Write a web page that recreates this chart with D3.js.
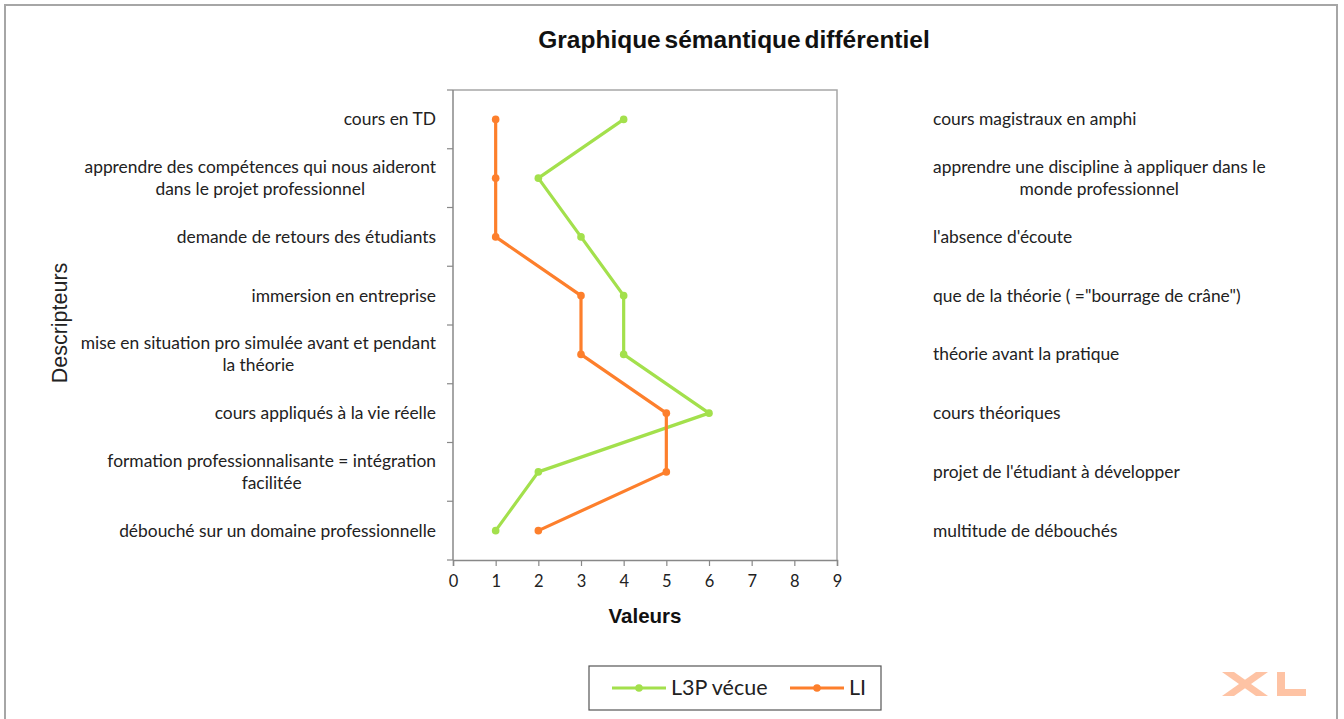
<!DOCTYPE html>
<html><head><meta charset="utf-8">
<script src="https://cdn.jsdelivr.net/npm/d3@7"></script>
<style>body{margin:0;background:#fff}svg{display:block}</style>
</head><body>
<svg id="c" width="1344" height="719"></svg>
<script>
const leftLabels = [
  ["cours en TD"],
  ["apprendre des compétences qui nous aideront","dans le projet professionnel"],
  ["demande de retours des étudiants"],
  ["immersion en entreprise"],
  ["mise en situation pro simulée avant et pendant","la théorie"],
  ["cours appliqués à la vie réelle"],
  ["formation professionnalisante = intégration","facilitée"],
  ["débouché sur un domaine professionnelle"]
];
const rightLabels = [
  ["cours magistraux en amphi"],
  ["apprendre une discipline à appliquer dans le","monde professionnel"],
  ["l'absence d'écoute"],
  ["que de la théorie ( =\"bourrage de crâne\")"],
  ["théorie avant la pratique"],
  ["cours théoriques"],
  ["projet de l'étudiant à développer"],
  ["multitude de débouchés"]
];
const seriesNames = ["L3P vécue", "LI"];
const l3pValues = [4, 2, 3, 4, 4, 6, 2, 1];
const liValues  = [1, 1, 1, 3, 3, 5, 5, 2];
const xTicks = [0,1,2,3,4,5,6,7,8,9];
const colors = ["#a3e04c", "#fd7f2c"];

const svg = d3.select("#c");
const labelFont = "Lato, 'Open Sans', sans-serif";
const labelSize = 17.4;

// outer frame
svg.append("rect").attr("x",5).attr("y",5).attr("width",1332).attr("height",730)
  .attr("fill","none").attr("stroke","#a6a6a6").attr("stroke-width",2);

const x = d3.scaleLinear().domain([0,9]).range([453,837]);
const idx = d3.range(leftLabels.length);
const y = d3.scaleBand().domain(idx).range([90,560]);
const yc = i => y(i) + y.bandwidth()/2;

// plot frame (top/right)
svg.append("path").attr("d",`M${x(0)},90H${x(9)}V560`).attr("fill","none")
  .attr("stroke","#a6a6a6").attr("stroke-width",1.5);

// x axis
const xa = svg.append("g").attr("transform","translate(0,560)")
  .call(d3.axisBottom(x).tickValues(xTicks).tickSize(6).tickPadding(9).tickFormat(d3.format("d")));
xa.select(".domain").attr("stroke","#888").attr("stroke-width",1.5);
xa.selectAll(".tick line").attr("stroke","#888").attr("stroke-width",1.2);
xa.selectAll("text").attr("font-family",labelFont).attr("font-size",16.5).attr("fill","#222");

// y axis line + ticks at band boundaries
svg.append("line").attr("x1",x(0)).attr("x2",x(0)).attr("y1",90).attr("y2",560)
  .attr("stroke","#888").attr("stroke-width",1.5);
const bounds = d3.range(leftLabels.length+1).map(i => i===leftLabels.length ? 560 : y(i));
svg.selectAll(".ytick").data(bounds).join("line")
  .attr("x1",x(0)-6).attr("x2",x(0)).attr("y1",d=>d).attr("y2",d=>d)
  .attr("stroke","#888").attr("stroke-width",1.2);

function addText(xp, yp, anchor, str){
  return svg.append("text").attr("x",xp).attr("y",yp).attr("text-anchor",anchor)
    .attr("font-family",labelFont).attr("font-size",labelSize).attr("fill","#222").text(str);
}
// left labels
leftLabels.forEach((lines,i)=>{
  if(lines.length===1){
    addText(436, yc(i)+6, "end", lines[0]);
  } else {
    const t1 = addText(436, yc(i)-5, "end", lines[0]);
    const w = t1.node().getComputedTextLength();
    addText(436 - w/2, yc(i)+17, "middle", lines[1]);
  }
});
// right labels
rightLabels.forEach((lines,i)=>{
  if(lines.length===1){
    addText(933, yc(i)+6, "start", lines[0]);
  } else {
    const t1 = addText(933, yc(i)-5, "start", lines[0]);
    const w = t1.node().getComputedTextLength();
    addText(933 + w/2, yc(i)+17, "middle", lines[1]);
  }
});

// series
const series = [l3pValues, liValues];
const line = d3.line().x(d=>x(d.v)).y(d=>yc(d.i));
series.forEach((vals,s)=>{
  const pts = vals.map((v,i)=>({v,i}));
  svg.append("path").datum(pts).attr("d",line).attr("fill","none")
    .attr("stroke",colors[s]).attr("stroke-width",3.2).attr("stroke-linejoin","round");
  svg.selectAll(null).data(pts).join("circle").attr("cx",d=>x(d.v)).attr("cy",d=>yc(d.i))
    .attr("r",3.8).attr("fill",colors[s]);
});

// title
svg.append("text").attr("x",734).attr("y",48).attr("text-anchor","middle")
  .attr("font-family","'Liberation Sans', Arial, sans-serif").attr("font-weight","bold")
  .attr("font-size",24.5).attr("word-spacing",-3).attr("fill","#111").text("Graphique sémantique différentiel");
// axis titles
svg.append("text").attr("x",645).attr("y",623).attr("text-anchor","middle")
  .attr("font-family","'Liberation Sans', Arial, sans-serif").attr("font-weight","bold")
  .attr("font-size",20.5).attr("fill","#111").text("Valeurs");
svg.append("text").attr("transform","translate(67,323) rotate(-90)").attr("text-anchor","middle")
  .attr("font-family","'Liberation Sans', Arial, sans-serif")
  .attr("font-size",21.5).attr("fill","#222").text("Descripteurs");

// legend
svg.append("rect").attr("x",589).attr("y",666).attr("width",292).attr("height",44)
  .attr("fill","#fff").attr("stroke","#555").attr("stroke-width",1.2);
const legX = [612, 790];
seriesNames.forEach((n,s)=>{
  svg.append("line").attr("x1",legX[s]).attr("x2",legX[s]+54).attr("y1",688).attr("y2",688)
    .attr("stroke",colors[s]).attr("stroke-width",3.2);
  svg.append("circle").attr("cx",legX[s]+27).attr("cy",688).attr("r",3.8).attr("fill",colors[s]);
  svg.append("text").attr("x",legX[s]+59).attr("y",695).attr("font-family",labelFont)
    .attr("font-size",21.5).attr("fill","#222").text(n);
});

// XL watermark
const wm = svg.append("g").attr("fill","#fec3a4").attr("stroke","none");
wm.append("path").attr("d","M1222,672L1234,672L1268,696L1256,696Z");
wm.append("path").attr("d","M1256,672L1268,672L1234,696L1222,696Z");
wm.append("path").attr("d","M1277,672H1285V689H1306V696H1277Z");
</script>
</body></html>
